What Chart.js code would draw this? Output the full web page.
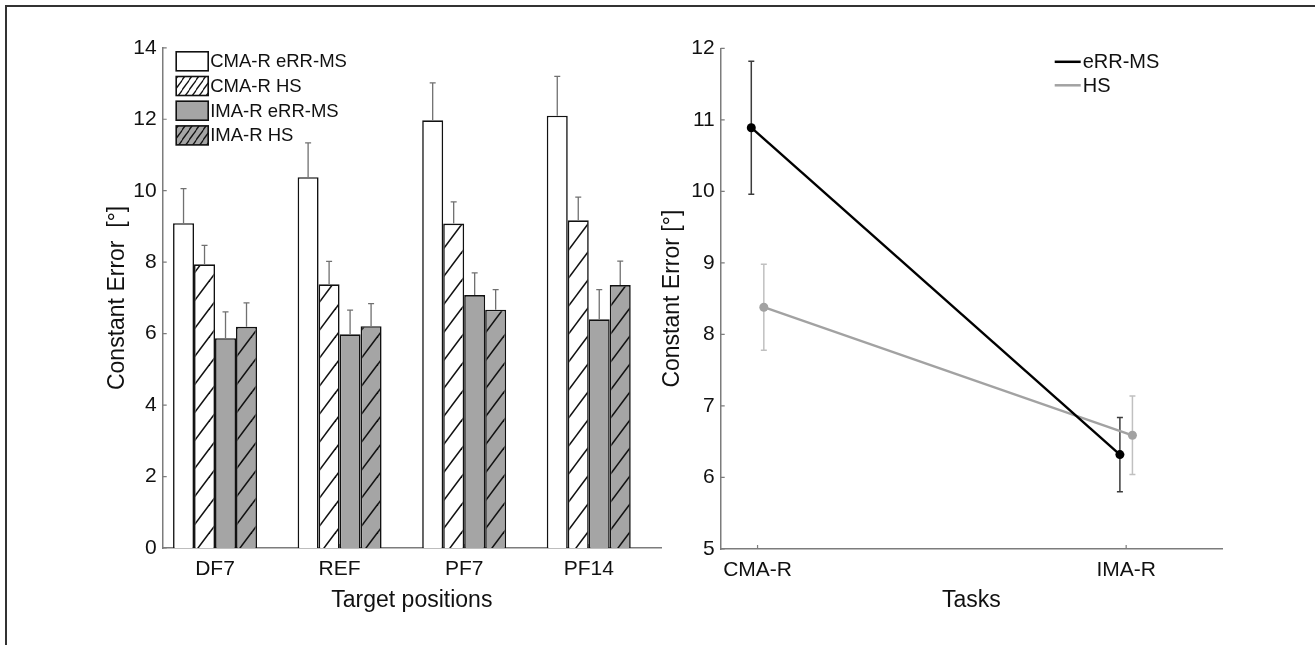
<!DOCTYPE html>
<html>
<head>
<meta charset="utf-8">
<script src="https://cdn.jsdelivr.net/npm/chart.js@4.4.1/dist/chart.umd.min.js"></script>
<style>
  html, body { margin: 0; padding: 0; background: #fff; }
  body { width: 1315px; height: 645px; position: relative; overflow: hidden; }
  #frame { position: absolute; left: 5px; top: 5px; right: -5px; bottom: -5px; border-top: 2px solid #333; border-left: 2px solid #333; }
  #left { position: absolute; left: 0; top: 0; }
  #right { position: absolute; left: 640px; top: 0; }
</style>
</head>
<body>
<div id="frame"></div>
<canvas id="left" width="680" height="645"></canvas>
<canvas id="right" width="675" height="645"></canvas>
<script>
// valores

// painel esquerdo: posições-alvo
const positions = ['DF7', 'REF', 'PF7', 'PF14'];
const cmaMs = [9.09, 10.38, 11.97, 12.10];
const cmaHs = [7.94, 7.38, 9.08, 9.17];
const imaMs = [5.87, 5.98, 7.08, 6.40];
const imaHs = [6.19, 6.21, 6.67, 7.36];
const cmaMsErr = [0.97, 0.96, 1.05, 1.10];
const cmaHsErr = [0.53, 0.64, 0.61, 0.65];
const imaMsErr = [0.74, 0.68, 0.62, 0.83];
const imaHsErr = [0.67, 0.63, 0.56, 0.67];
const barTicks = [0, 2, 4, 6, 8, 10, 12, 14];

// painel direito: tarefas
const tasks = ['CMA-R', 'IMA-R'];
const msMean = [10.89, 6.32];
const msErr = [0.93, 0.52];
const hsMean = [8.38, 6.59];
const hsErr = [0.60, 0.55];
const lineTicks = [5, 6, 7, 8, 9, 10, 11, 12];
const dodge = 0.017; // deslocamento lateral das séries

const FONT = "'Liberation Sans', Arial, Helvetica, sans-serif";
const axisGray = '#7c7c7c';
const barGray = '#a5a5a5';
Chart.defaults.font.family = FONT;
Chart.defaults.color = '#111';

// padrão de hachura "/"
function hatch(bg, w, h, lw) {
  const c = document.createElement('canvas');
  c.width = w; c.height = h;
  const g = c.getContext('2d');
  g.fillStyle = bg;
  g.fillRect(0, 0, w, h);
  g.strokeStyle = '#111';
  g.lineWidth = lw;
  for (let k = 0; k <= 2; k++) {
    g.beginPath();
    g.moveTo(-w, k * h + h);
    g.lineTo(2 * w, k * h - 2 * h);
    g.stroke();
  }
  return g.createPattern(c, 'repeat');
}

const toXY = (arr, shift = 0) => arr.map((v, i) => ({ x: i + 1 + shift, y: v }));

// marcas de escala para dentro (estilo MATLAB)
const tickMarks = {
  id: 'tickMarks',
  beforeDatasetsDraw(chart) {
    const { ctx, chartArea, scales } = chart;
    ctx.save();
    ctx.strokeStyle = axisGray;
    ctx.lineWidth = 1.2;
    ctx.beginPath();
    scales.y.ticks.forEach(t => {
      const y = scales.y.getPixelForValue(t.value);
      ctx.moveTo(chartArea.left, y);
      ctx.lineTo(chartArea.left + 4, y);
    });
    scales.x.ticks.forEach(t => {
      const x = scales.x.getPixelForValue(t.value);
      ctx.moveTo(x, chartArea.bottom);
      ctx.lineTo(x, chartArea.bottom - 4);
    });
    ctx.stroke();
    ctx.restore();
  }
};

// barras de erro (só para cima)
const barErrors = {
  id: 'barErrors',
  afterDatasetsDraw(chart) {
    const { ctx, scales: { y } } = chart;
    ctx.save();
    ctx.strokeStyle = '#707070';
    ctx.lineWidth = 1.3;
    chart.data.datasets.forEach((ds, d) => {
      chart.getDatasetMeta(d).data.forEach((bar, i) => {
        const top = y.getPixelForValue(ds.data[i].y + ds.err[i]);
        ctx.beginPath();
        ctx.moveTo(bar.x, bar.y);
        ctx.lineTo(bar.x, top);
        ctx.moveTo(bar.x - 3, top);
        ctx.lineTo(bar.x + 3, top);
        ctx.stroke();
      });
    });
    ctx.restore();
  }
};

// legenda dentro do gráfico de barras
const barLegend = {
  id: 'barLegend',
  afterDraw(chart) {
    const { ctx, chartArea } = chart;
    const x0 = chartArea.left + 13.5;
    ctx.save();
    ctx.font = '18.5px ' + FONT;
    ctx.textBaseline = 'middle';
    chart.data.datasets.forEach((ds, i) => {
      const yc = chartArea.top + 13.5 + i * 24.7;
      ctx.fillStyle = ds.legendFill;
      ctx.fillRect(x0, yc - 9.5, 32, 19);
      ctx.strokeStyle = '#111';
      ctx.lineWidth = 1.6;
      ctx.strokeRect(x0, yc - 9.5, 32, 19);
      ctx.fillStyle = '#111';
      ctx.fillText(ds.label, x0 + 34, yc + 1);
    });
    ctx.restore();
  }
};

new Chart(document.getElementById('left'), {
  type: 'bar',
  data: {
    datasets: [
      { label: 'CMA-R eRR-MS', data: toXY(cmaMs), err: cmaMsErr, backgroundColor: '#fff', legendFill: '#fff' },
      { label: 'CMA-R HS', data: toXY(cmaHs), err: cmaHsErr, backgroundColor: hatch('#fff', 21, 28, 1.6), legendFill: hatch('#fff', 7.5, 10, 1.4) },
      { label: 'IMA-R eRR-MS', data: toXY(imaMs), err: imaMsErr, backgroundColor: barGray, legendFill: barGray },
      { label: 'IMA-R HS', data: toXY(imaHs), err: imaHsErr, backgroundColor: hatch(barGray, 21, 28, 1.6), legendFill: hatch(barGray, 7.5, 10, 1.4) }
    ]
  },
  options: {
    responsive: false,
    animation: false,
    layout: { padding: { left: 0, top: 47.8, right: 19, bottom: 0 } },
    datasets: { bar: { categoryPercentage: 0.674, barPercentage: 1, borderColor: '#111', borderWidth: 1.6 } },
    plugins: { legend: { display: false }, tooltip: { enabled: false } },
    scales: {
      x: {
        type: 'linear', min: 0.58, max: 4.58, offset: false,
        grid: { display: false, drawTicks: false },
        border: { color: axisGray, width: 1.5 },
        afterBuildTicks: s => { s.ticks = positions.map((p, i) => ({ value: i + 1 })); },
        afterFit: s => { s.height = 97; },
        ticks: { font: { size: 21 }, padding: 9, callback: v => positions[v - 1] },
        title: { display: true, text: 'Target positions', font: { size: 23 }, padding: { bottom: 31 } }
      },
      y: {
        min: 0, max: 14,
        grid: { display: false, drawTicks: false },
        border: { color: axisGray, width: 1.5 },
        afterBuildTicks: s => { s.ticks = barTicks.map(v => ({ value: v })); },
        afterFit: s => { s.width = 162.7; },
        ticks: { font: { size: 21 }, padding: 6 },
        title: { display: true, text: 'Constant Error  [°]', font: { size: 23 }, padding: { top: 104 } }
      }
    }
  },
  plugins: [tickMarks, barErrors, barLegend]
});

// barras de erro simétricas do painel direito
const lineErrors = {
  id: 'lineErrors',
  beforeDatasetsDraw(chart) {
    const { ctx, scales: { y } } = chart;
    ctx.save();
    ctx.lineWidth = 1.5;
    chart.data.datasets.forEach((ds, d) => {
      ctx.strokeStyle = ds.errColor;
      chart.getDatasetMeta(d).data.forEach((pt, i) => {
        const hi = y.getPixelForValue(ds.data[i].y + ds.err[i]);
        const lo = y.getPixelForValue(ds.data[i].y - ds.err[i]);
        ctx.beginPath();
        ctx.moveTo(pt.x, hi); ctx.lineTo(pt.x, lo);
        ctx.moveTo(pt.x - 3, hi); ctx.lineTo(pt.x + 3, hi);
        ctx.moveTo(pt.x - 3, lo); ctx.lineTo(pt.x + 3, lo);
        ctx.stroke();
      });
    });
    ctx.restore();
  }
};

const lineLegend = {
  id: 'lineLegend',
  afterDraw(chart) {
    const { ctx, chartArea } = chart;
    const x0 = chartArea.left + 334;
    ctx.save();
    ctx.font = '20px ' + FONT;
    ctx.textBaseline = 'middle';
    chart.data.datasets.forEach((ds, i) => {
      const yc = chartArea.top + 13.5 + i * 23.5;
      ctx.strokeStyle = ds.borderColor;
      ctx.lineWidth = 2.5;
      ctx.beginPath();
      ctx.moveTo(x0, yc); ctx.lineTo(x0 + 26, yc);
      ctx.stroke();
      ctx.fillStyle = '#111';
      ctx.fillText(ds.label, x0 + 28, yc + 1);
    });
    ctx.restore();
  }
};

new Chart(document.getElementById('right'), {
  type: 'line',
  data: {
    datasets: [
      { label: 'eRR-MS', data: toXY(msMean, -dodge), err: msErr, borderColor: '#000', backgroundColor: '#000', errColor: '#3c3c3c' },
      { label: 'HS', data: toXY(hsMean, dodge), err: hsErr, borderColor: '#a2a2a2', backgroundColor: '#a2a2a2', errColor: '#c0c0c0' }
    ]
  },
  options: {
    responsive: false,
    animation: false,
    layout: { padding: { left: 0, top: 48.3, right: 93, bottom: 0 } },
    elements: { line: { borderWidth: 2.4, tension: 0 }, point: { radius: 4.5, borderWidth: 0 } },
    plugins: { legend: { display: false }, tooltip: { enabled: false } },
    scales: {
      x: {
        type: 'linear', min: 0.9, max: 2.26, offset: false,
        grid: { display: false, drawTicks: false },
        border: { color: axisGray, width: 1.5 },
        afterBuildTicks: s => { s.ticks = tasks.map((t, i) => ({ value: i + 1 })); },
        afterFit: s => { s.height = 96; },
        ticks: { font: { size: 21 }, padding: 9, callback: v => tasks[v - 1] },
        title: { display: true, text: 'Tasks', font: { size: 23 }, padding: { bottom: 31 } }
      },
      y: {
        min: 5, max: 12,
        grid: { display: false, drawTicks: false },
        border: { color: axisGray, width: 1.5 },
        afterBuildTicks: s => { s.ticks = lineTicks.map(v => ({ value: v })); },
        afterFit: s => { s.width = 80.7; },
        ticks: { font: { size: 21 }, padding: 6 },
        title: { display: true, text: 'Constant Error [°]', font: { size: 23 }, padding: { top: 19.2 } }
      }
    }
  },
  plugins: [tickMarks, lineErrors, lineLegend]
});
</script>
</body>
</html>
